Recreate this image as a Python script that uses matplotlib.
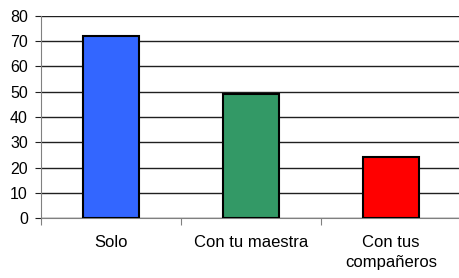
import numpy as np
import matplotlib.pyplot as plt

categories = ['Solo', 'Con tu maestra', 'Con tus\ncompañeros']
values = [72, 49, 24]
colors = ['#3366FF', '#339966', '#FF0000']
yticks = [0, 10, 20, 30, 40, 50, 60, 70, 80]

plt.rcParams['font.family'] = ['Liberation Sans', 'DejaVu Sans']

fig = plt.figure(figsize=(4.59, 2.78), dpi=100)
ax = fig.add_axes([41/459, 60/278, 420/459, 202/278])

x = np.arange(len(categories))
ax.bar(x, values, width=0.4, color=colors, edgecolor='black', linewidth=1.5, zorder=3)

ax.set_xlim(-0.5, 2.5)
ax.set_ylim(0, 80)
ax.set_yticks(yticks)
ax.yaxis.grid(True, color='#202020', linewidth=1, zorder=0)
ax.set_axisbelow(True)

ax.set_xticks([-0.5, 0.5, 1.5, 2.5])
ax.set_xticklabels([])
ax.set_xticks(x, minor=True)
ax.set_xticklabels(categories, minor=True, fontsize=12, linespacing=1.45)
ax.tick_params(axis='x', which='minor', length=0, pad=12)
ax.tick_params(axis='x', which='major', length=5, color='#808080')
ax.tick_params(axis='y', length=4.5, color='#202020', labelsize=11.5, pad=5)

for s in ['top', 'right']:
    ax.spines[s].set_visible(False)
ax.spines['left'].set_color('#808080')
ax.spines['bottom'].set_color('#808080')

fig.savefig('out.png', dpi=100)
